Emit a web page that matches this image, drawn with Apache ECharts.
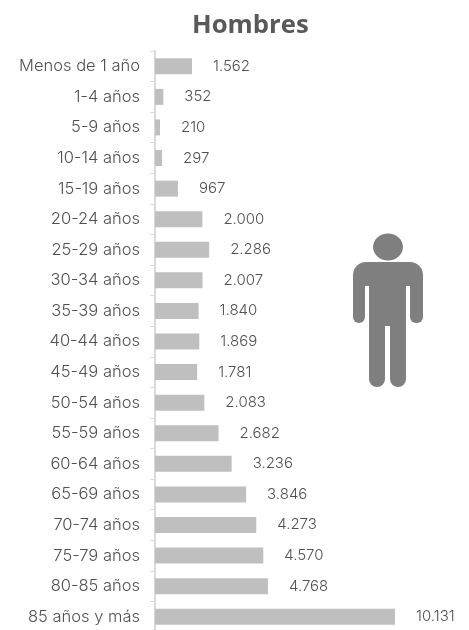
<!DOCTYPE html>
<html><head><meta charset="utf-8">
<style>html,body{margin:0;padding:0;background:#fff}#c{width:469px;height:630px}</style>
<script src="https://cdn.jsdelivr.net/npm/echarts@6/dist/echarts.min.js"></script>
</head><body><div id="c"></div>
<script>
const categories = ["Menos de 1 año","1-4 años","5-9 años","10-14 años","15-19 años","20-24 años","25-29 años","30-34 años","35-39 años","40-44 años","45-49 años","50-54 años","55-59 años","60-64 años","65-69 años","70-74 años","75-79 años","80-85 años","85 años y más"];
const values = [1562,352,210,297,967,2000,2286,2007,1840,1869,1781,2083,2682,3236,3846,4273,4570,4768,10131];
const chartTitle = "Hombres";
const fmt = v => String(v).replace(/\B(?=(\d{3})+$)/g, ".");
const FONT = "Inter";
const ICON = '#7f7f7f';
const chart = echarts.init(document.getElementById('c'), null, {renderer:'canvas'});
chart.setOption({
  animation:false,
  title:{text:chartTitle,left:187,top:8,textStyle:{fontFamily:'Open Sans',fontWeight:'bold',fontSize:25.7,color:'#595959'}},
  grid:{left:155,right:184.7 - 155,top:51,bottom:-2,containLabel:false,outerBounds:{left:-100,right:-100,top:-100,bottom:-100}},
  xAxis:{type:'value',min:0,max:12000,show:false},
  yAxis:{type:'category',inverse:true,data:categories,
    axisLine:{show:true,lineStyle:{color:'#d9d9d9',width:2}},
    axisTick:{show:true,length:5,alignWithLabel:false,lineStyle:{color:'#d9d9d9',width:1}},
    axisLabel:{fontFamily:FONT,fontWeight:300,fontSize:16.5,color:'#505050',margin:15}},
  series:[{type:'bar',data:values,barWidth:16,itemStyle:{color:'#bfbfbf'},
    label:{show:true,position:'right',distance:21,fontFamily:FONT,fontWeight:300,fontSize:15,color:'#505050',formatter:p=>fmt(p.value)}}],
  graphic:[{type:'group',silent:true,children:[
    {type:'ellipse',shape:{cx:388,cy:247,rx:15,ry:13.5},style:{fill:ICON}},
    {type:'rect',shape:{x:353,y:262,width:70,height:24,r:[13,13,0,0]},style:{fill:ICON}},
    {type:'rect',shape:{x:353,y:280,width:12,height:43,r:[0,0,6,6]},style:{fill:ICON}},
    {type:'rect',shape:{x:410,y:280,width:13,height:43,r:[0,0,6,6]},style:{fill:ICON}},
    {type:'rect',shape:{x:369,y:280,width:37,height:46},style:{fill:ICON}},
    {type:'rect',shape:{x:369,y:320,width:16,height:67,r:[0,0,8,8]},style:{fill:ICON}},
    {type:'rect',shape:{x:390,y:320,width:16,height:67,r:[0,0,8,8]},style:{fill:ICON}}
  ]}]
});
</script></body></html>
